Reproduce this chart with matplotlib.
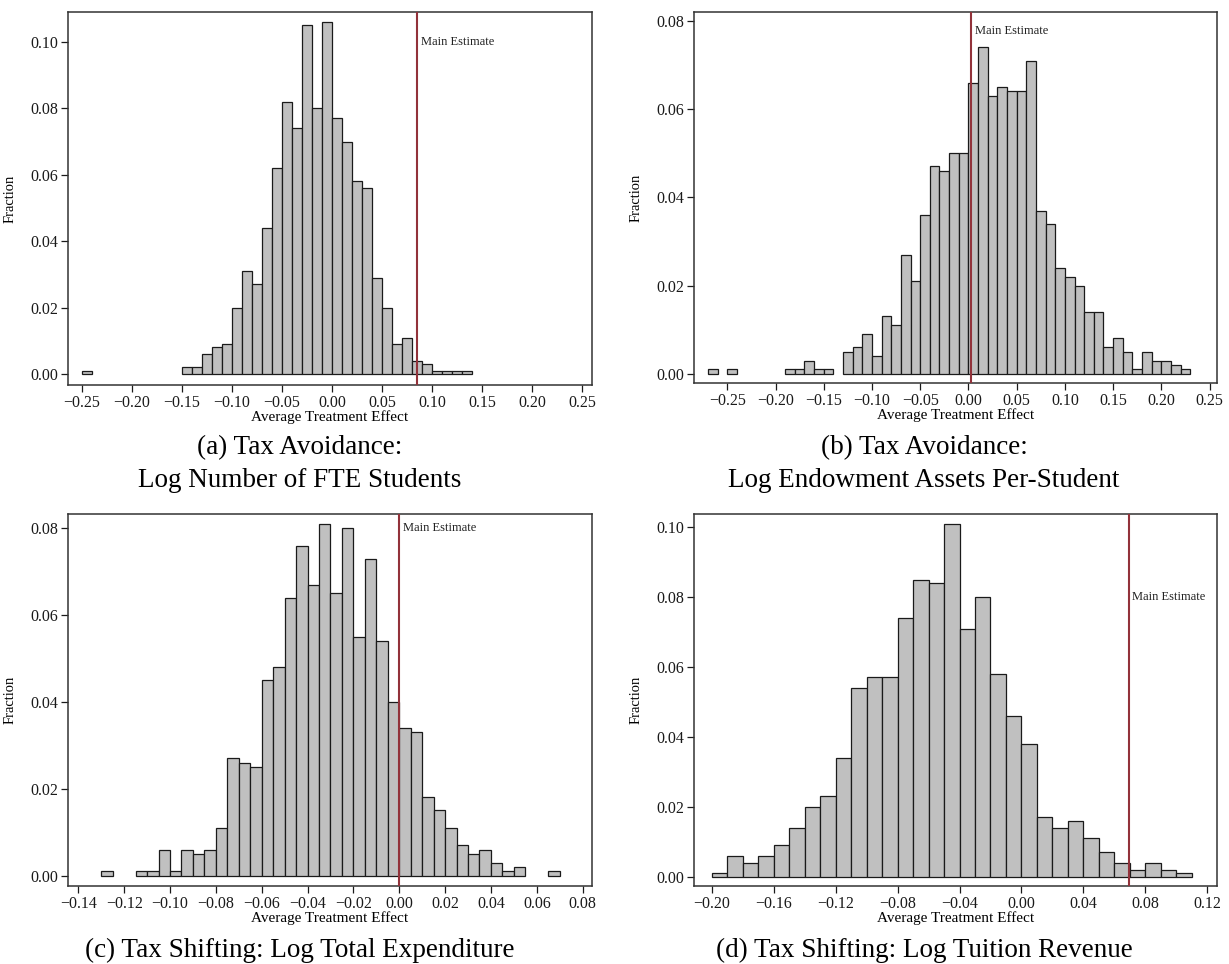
import numpy as np
import matplotlib
matplotlib.use('Agg')
import matplotlib.pyplot as plt
from matplotlib.ticker import FuncFormatter

plt.rcParams['font.family'] = ['Liberation Serif', 'DejaVu Serif']

# --- placebo distributions: lower bin edge and fraction per bin
a_bins = [-0.25, -0.15, -0.14, -0.13, -0.12, -0.11, -0.10, -0.09, -0.08, -0.07,
          -0.06, -0.05, -0.04, -0.03, -0.02, -0.01, 0.00, 0.01, 0.02, 0.03,
          0.04, 0.05, 0.06, 0.07, 0.08, 0.09, 0.10, 0.11, 0.12, 0.13]
a_frac = [0.001, 0.002, 0.002, 0.006, 0.008, 0.009, 0.020, 0.031, 0.027, 0.044,
          0.062, 0.082, 0.074, 0.105, 0.080, 0.106, 0.077, 0.070, 0.058, 0.056,
          0.029, 0.020, 0.009, 0.011, 0.004, 0.003, 0.001, 0.001, 0.001, 0.001]
a_est = 0.0854

b_bins = [-0.27, -0.25, -0.19, -0.18, -0.17, -0.16, -0.15,
          -0.13, -0.12, -0.11, -0.10, -0.09, -0.08, -0.07, -0.06,
          -0.05, -0.04, -0.03, -0.02, -0.01,
          0.00, 0.01, 0.02, 0.03, 0.04, 0.05, 0.06,
          0.07, 0.08, 0.09, 0.10, 0.11, 0.12, 0.13,
          0.14, 0.15, 0.16, 0.17, 0.18, 0.19, 0.20, 0.21, 0.22]
b_frac = [0.001, 0.001, 0.001, 0.001, 0.003, 0.001, 0.001,
          0.005, 0.006, 0.009, 0.004, 0.013, 0.011, 0.027, 0.021,
          0.036, 0.047, 0.046, 0.050, 0.050,
          0.066, 0.074, 0.063, 0.065, 0.064, 0.064, 0.071,
          0.037, 0.034, 0.024, 0.022, 0.020, 0.014, 0.014,
          0.006, 0.008, 0.005, 0.001, 0.005, 0.003, 0.003, 0.002, 0.001]
b_est = 0.003

c_bins = [-0.13, -0.115, -0.11, -0.105, -0.10, -0.095, -0.09, -0.085, -0.08,
          -0.075, -0.07, -0.065, -0.06, -0.055, -0.05, -0.045, -0.04, -0.035,
          -0.03, -0.025, -0.02, -0.015, -0.01, -0.005, 0.00, 0.005, 0.01,
          0.015, 0.02, 0.025, 0.03, 0.035, 0.04, 0.045, 0.05, 0.065]
c_frac = [0.001, 0.001, 0.001, 0.006, 0.001, 0.006, 0.005, 0.006, 0.011,
          0.027, 0.026, 0.025, 0.045, 0.048, 0.064, 0.076, 0.067, 0.081,
          0.065, 0.080, 0.055, 0.073, 0.054, 0.040, 0.034, 0.033, 0.018,
          0.015, 0.011, 0.007, 0.005, 0.006, 0.003, 0.001, 0.002, 0.001]
c_est = 0.0

d_bins = [-0.20, -0.19, -0.18, -0.17, -0.16, -0.15, -0.14, -0.13, -0.12, -0.11,
          -0.10, -0.09, -0.08, -0.07, -0.06, -0.05, -0.04, -0.03, -0.02, -0.01,
          0.00, 0.01, 0.02, 0.03, 0.04, 0.05, 0.06, 0.07, 0.08, 0.09, 0.10]
d_frac = [0.001, 0.006, 0.004, 0.006, 0.009, 0.014, 0.020, 0.023, 0.034, 0.054,
          0.057, 0.057, 0.074, 0.085, 0.084, 0.101, 0.071, 0.080, 0.058, 0.046,
          0.038, 0.017, 0.014, 0.016, 0.011, 0.007, 0.004, 0.002, 0.004, 0.002, 0.001]
d_est = 0.0693

a_xticks = [-0.25, -0.20, -0.15, -0.10, -0.05, 0.00, 0.05, 0.10, 0.15, 0.20, 0.25]
b_xticks = a_xticks
c_xticks = [-0.14, -0.12, -0.10, -0.08, -0.06, -0.04, -0.02, 0.00, 0.02, 0.04, 0.06, 0.08]
d_xticks = [-0.20, -0.16, -0.12, -0.08, -0.04, 0.00, 0.04, 0.08, 0.12]

captions = [('(a) Tax Avoidance:', 'Log Number of FTE Students'),
            ('(b) Tax Avoidance:', 'Log Endowment Assets Per-Student'),
            ('(c) Tax Shifting: Log Total Expenditure', None),
            ('(d) Tax Shifting: Log Tuition Revenue', None)]

W, H = 1229, 964
fig = plt.figure(figsize=(W / 100, H / 100), dpi=100)

def px_axes(l, t, r, b):
    return fig.add_axes([l / W, 1 - b / H, (r - l) / W, (b - t) / H])

fmt = FuncFormatter(lambda v, _: f'{round(v, 4) + 0.0:.2f}'.replace('-', '\u2212'))

panels = [
    (px_axes(68, 12, 592, 385), a_bins, a_frac, 0.01, a_est, 0.100,
     a_xticks, np.arange(0, 0.101, 0.02), (-0.264, 0.26), (-0.0033, 0.109)),
    (px_axes(694, 12, 1217, 383), b_bins, b_frac, 0.01, b_est, 0.0776,
     b_xticks, np.arange(0, 0.081, 0.02), (-0.2845, 0.2577), (-0.0021, 0.082)),
    (px_axes(68, 514, 592, 886), c_bins, c_frac, 0.005, c_est, 0.080,
     c_xticks, np.arange(0, 0.081, 0.02), (-0.1445, 0.0841), (-0.0024, 0.0833)),
    (px_axes(694, 514, 1217, 886), d_bins, d_frac, 0.01, d_est, 0.080,
     d_xticks, np.arange(0, 0.101, 0.02), (-0.2115, 0.1263), (-0.0027, 0.1038)),
]

red = '#92323a'
for ax, bins, frac, w, est, ty, xt, yt, xl, yl in panels:
    ax.bar(bins, frac, width=w, align='edge', color='#c0c0c0',
           edgecolor='#1a1a1a', linewidth=0.9, zorder=2)
    ax.axvline(est, color=red, lw=1.5, zorder=3)
    ax.annotate('Main Estimate', (est, ty), xytext=(2.5, 0), textcoords='offset points',
                va='center', ha='left', fontsize=9, color='#222222')
    ax.set_xticks(xt)
    ax.set_yticks(yt)
    ax.xaxis.set_major_formatter(fmt)
    ax.yaxis.set_major_formatter(fmt)
    ax.set_xlim(*xl)
    ax.set_ylim(*yl)
    ax.tick_params(direction='out', length=5, width=0.9, labelsize=11.5,
                   pad=2, colors='#1a1a1a')
    for s in ax.spines.values():
        s.set_color('#333333')
        s.set_linewidth(1.1)
    ax.set_ylabel('Fraction', fontsize=10.5)
    ax.yaxis.set_label_coords(-0.098, 0.5)
    ax.set_xlabel('Average Treatment Effect', fontsize=11)
    ax.xaxis.set_label_coords(0.5, -0.068)
    ax.xaxis.label.set_va('top')

# sub-captions below each panel
cap_x = [300, 924, 300, 924]
cap_y = [454, 454, 957, 957]
for (l1, l2), cx, cy in zip(captions, cap_x, cap_y):
    fig.text(cx / W, 1 - cy / H, l1, ha='center', va='baseline', fontsize=19.5)
    if l2:
        fig.text(cx / W, 1 - (cy + 33) / H, l2, ha='center', va='baseline', fontsize=19.5)

fig.savefig('out.png', dpi=100)
